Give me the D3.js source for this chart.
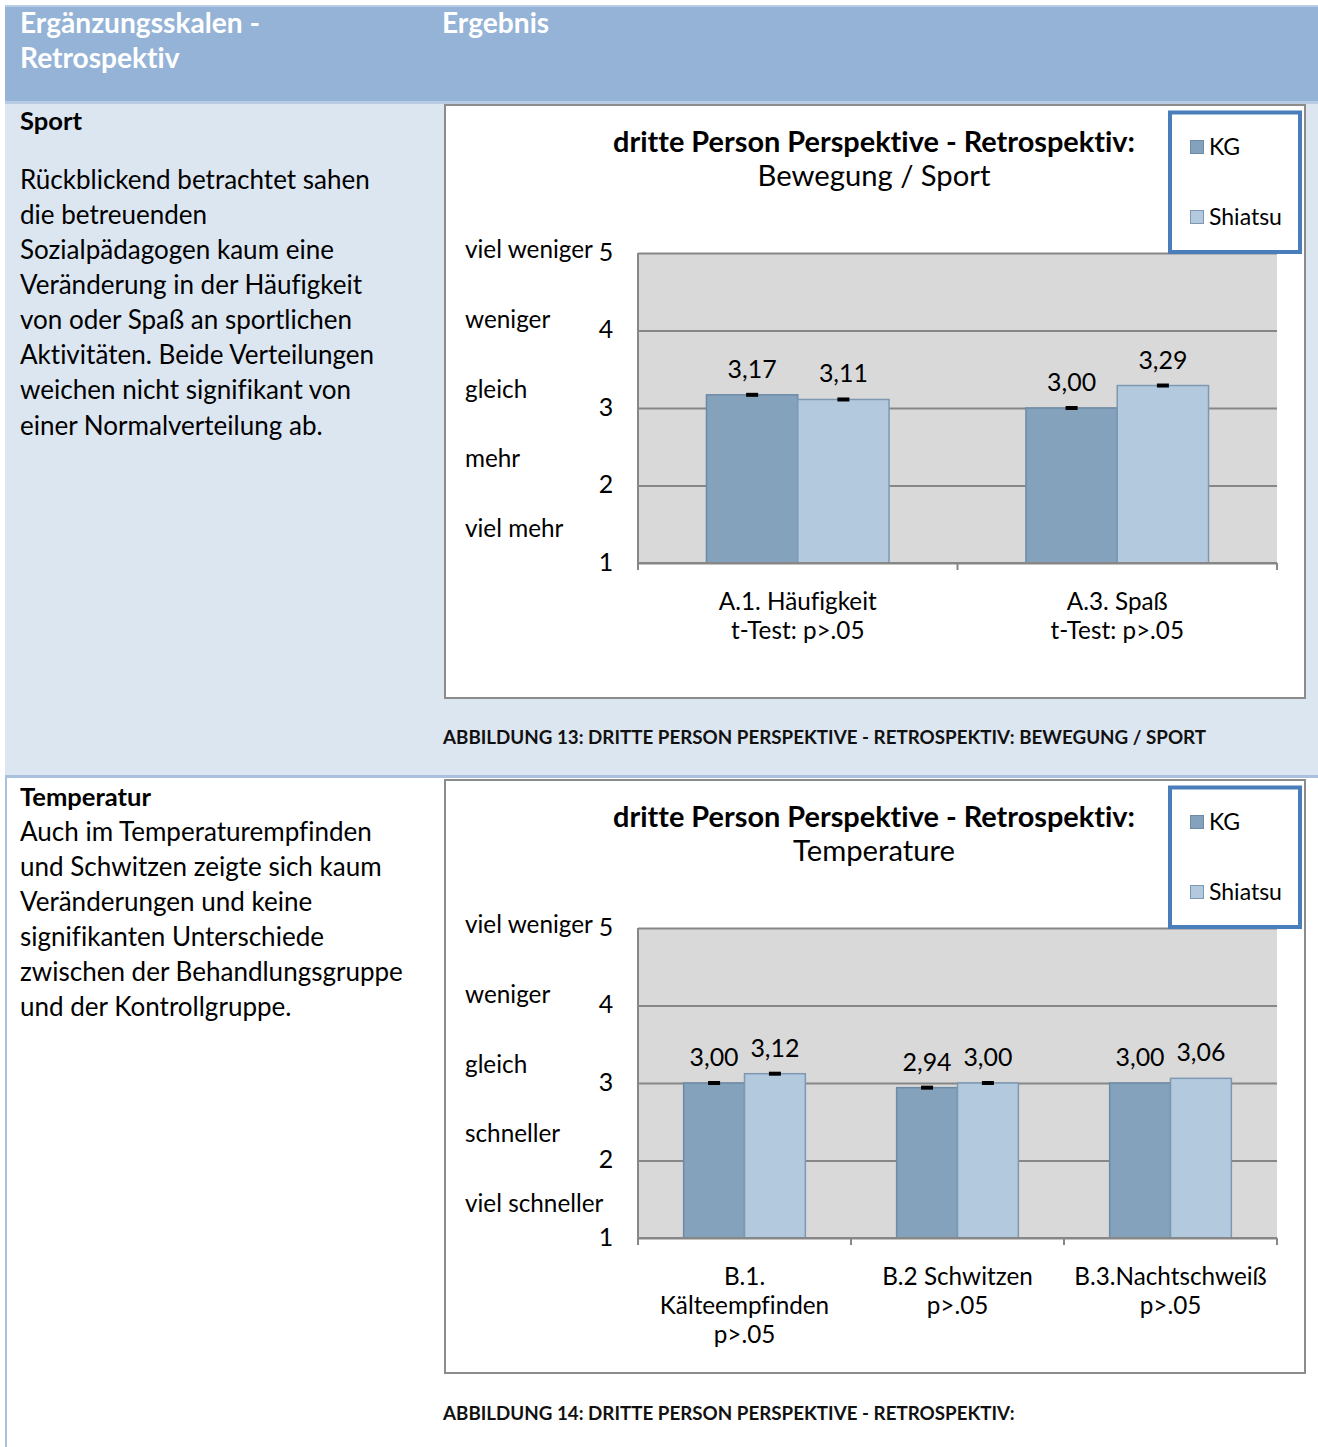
<!DOCTYPE html>
<html><head><meta charset="utf-8">
<script src="https://cdn.jsdelivr.net/npm/d3@7"></script>
<style>body{margin:0;background:#fff}svg{display:block}text{font-family:Lato,"Open Sans",sans-serif;font-variant-ligatures:none}</style>
</head><body>
<script>
// ---------- data ----------
const headerLeft = ["Ergänzungsskalen -", "Retrospektiv"];
const headerRight = "Ergebnis";
const sportTitle = "Sport";
const sportLines = ["Rückblickend betrachtet sahen","die betreuenden","Sozialpädagogen kaum eine","Veränderung in der Häufigkeit","von oder Spaß an sportlichen","Aktivitäten. Beide Verteilungen","weichen nicht signifikant von","einer Normalverteilung ab."];
const tempTitle = "Temperatur";
const tempLines = ["Auch im Temperaturempfinden","und Schwitzen zeigte sich kaum","Veränderungen und keine","signifikanten Unterschiede","zwischen der Behandlungsgruppe","und der Kontrollgruppe."];
const seriesNames = ["KG", "Shiatsu"];
const chartTitle = "dritte Person Perspektive - Retrospektiv:";
const sportSubtitle = "Bewegung / Sport";
const tempSubtitle = "Temperature";
const sportCategories = [["A.1. Häufigkeit","t-Test: p>.05"],["A.3. Spaß","t-Test: p>.05"]];
const sportKG = [3.17, 3.00];
const sportShiatsu = [3.11, 3.29];
const sportErrorShown = [true, true];
const tempCategories = [["B.1.","Kälteempfinden","p>.05"],["B.2 Schwitzen","p>.05"],["B.3.Nachtschweiß","p>.05"]];
const tempKG = [3.00, 2.94, 3.00];
const tempShiatsu = [3.12, 3.00, 3.06];
const tempErrorShown = [true, true, false];
const yTicks = [1, 2, 3, 4, 5];
const sportScaleLabels = ["viel weniger","weniger","gleich","mehr","viel mehr"];
const tempScaleLabels = ["viel weniger","weniger","gleich","schneller","viel schneller"];
const caption13 = "ABBILDUNG 13: DRITTE PERSON PERSPEKTIVE - RETROSPEKTIV: BEWEGUNG / SPORT";
const caption14 = "ABBILDUNG 14: DRITTE PERSON PERSPEKTIVE - RETROSPEKTIV:";

// ---------- setup ----------
const W = 1318, H = 1447;
const svg = d3.select("body").append("svg").attr("width", W).attr("height", H);
function fitSize(str, target, weight) {
  const t = svg.append("text").attr("font-size", 100).attr("font-weight", weight || "normal").text(str);
  const w = t.node().getComputedTextLength(); t.remove();
  return 100 * target / w;
}
const fsHeader = fitSize(headerLeft[0], 240, "bold");
const fsBody = fitSize(sportLines[0], 350);
const fsBodyBold = fitSize(sportTitle, 62, "bold");
const fsTitle = fitSize(chartTitle, 522, "bold");
const fsSub = fitSize(sportSubtitle, 233);
const fsScale = fitSize("viel weniger", 128);
const fsVal = fitSize("3,17", 49);
const fsX = fitSize("A.1. Häufigkeit", 158);
const fsLeg = fitSize("Shiatsu", 73);
const fsCap = fitSize(caption13, 764, "bold");
const fsTick = fsVal;
const dy = -1.5; // baseline correction for central alignment

// ---------- page background ----------
svg.append("rect").attr("x", 5).attr("y", 5).attr("width", W - 5).attr("height", 98).attr("fill", "#95b3d7");
svg.append("rect").attr("x", 5).attr("y", 5).attr("width", W - 5).attr("height", 2).attr("fill", "#b8cce4");
svg.append("rect").attr("x", 5).attr("y", 101).attr("width", W - 5).attr("height", 3).attr("fill", "#b8cce4");
svg.append("rect").attr("x", 5).attr("y", 104).attr("width", W - 5).attr("height", 672).attr("fill", "#dce6f1");
svg.append("rect").attr("x", 5).attr("y", 775).attr("width", W - 5).attr("height", 3).attr("fill", "#a9c0de");
svg.append("rect").attr("x", 5).attr("y", 778).attr("width", 2).attr("height", H - 778).attr("fill", "#a9c0de");

// header
const hdr = svg.append("g").attr("fill", "#fff").attr("font-weight", "bold").attr("font-size", fsHeader);
hdr.selectAll("text.hl").data(headerLeft).join("text").attr("x", 20).attr("y", (d, i) => 23 + dy + i * 35)
  .attr("dominant-baseline", "central").text(d => d);
hdr.append("text").attr("x", 442).attr("y", 23 + dy).attr("dominant-baseline", "central").text(headerRight);

// left texts
function leftText(title, lines, y0, firstGap) {
  const g = svg.append("g").attr("fill", "#000");
  g.append("text").attr("x", 20).attr("y", y0 + dy).attr("dominant-baseline", "central")
    .attr("font-weight", "bold").attr("font-size", fsBodyBold).text(title);
  g.selectAll("text.l").data(lines).join("text").attr("x", 20)
    .attr("y", (d, i) => y0 + dy + firstGap + i * 35.15).attr("dominant-baseline", "central")
    .attr("font-size", fsBody).text(d => d);
}
leftText(sportTitle, sportLines, 121, 59);
leftText(tempTitle, tempLines, 797, 35);

// captions
svg.append("text").attr("x", 443).attr("y", 738 + dy).attr("dominant-baseline", "central")
  .attr("font-weight", "bold").attr("font-size", fsCap).attr("fill", "#111").text(caption13);
svg.append("text").attr("x", 443).attr("y", 1414 + dy).attr("dominant-baseline", "central")
  .attr("font-weight", "bold").attr("font-size", fsCap).attr("fill", "#111").text(caption14);

// ---------- charts ----------
function drawChart(top, subtitle, categories, kg, sh, errShown, scaleLabels) {
  const box = { x: 445, y: top, w: 860, h: 593 };
  const g = svg.append("g");
  g.append("rect").attr("x", box.x).attr("y", box.y).attr("width", box.w).attr("height", box.h)
    .attr("fill", "#fff").attr("stroke", "#8c8c8c").attr("stroke-width", 2);
  const cx = box.x + box.w / 2 - 1;
  g.append("text").attr("x", cx).attr("y", top + 37 + dy).attr("text-anchor", "middle").attr("dominant-baseline", "central")
    .attr("font-weight", "bold").attr("font-size", fsTitle).text(chartTitle);
  g.append("text").attr("x", cx).attr("y", top + 71 + dy).attr("text-anchor", "middle").attr("dominant-baseline", "central")
    .attr("font-size", fsSub).text(subtitle);

  const plot = { l: 638, r: 1277, t: top + 148, b: top + 458 };
  const y = d3.scaleLinear().domain([1, 5]).range([plot.b, plot.t]);
  const keys = categories.map((c, i) => i);
  const x0 = d3.scaleBand().domain(keys).range([plot.l, plot.r]).padding(0);
  const x1 = d3.scaleBand().domain(seriesNames).range([0, x0.bandwidth()]).paddingInner(0).paddingOuter(0.75);

  g.append("rect").attr("x", plot.l).attr("y", plot.t).attr("width", plot.r - plot.l).attr("height", plot.b - plot.t)
    .attr("fill", "#d9d9d9");
  const grid = g.append("g").attr("transform", `translate(${plot.l},0)`)
    .call(d3.axisLeft(y).tickValues(yTicks).tickSize(-(plot.r - plot.l)).tickFormat(""));
  grid.select(".domain").remove();
  grid.selectAll("line").attr("stroke", "#878787").attr("stroke-width", 2);
  g.selectAll("text.yt").data(yTicks).join("text").attr("x", 606).attr("y", d => y(d) - 1 + dy)
    .attr("text-anchor", "middle").attr("dominant-baseline", "central").attr("font-size", fsTick).text(d => d);
  const ys = d3.scalePoint().domain(scaleLabels).range([plot.t - 3, plot.t + 276]);
  g.selectAll("text.sl").data(scaleLabels).join("text").attr("x", 465).attr("y", d => ys(d) + dy)
    .attr("dominant-baseline", "central").attr("font-size", fsScale).text(d => d);

  const data = [];
  keys.forEach(i => {
    data.push({ i, s: "KG", v: kg[i], fill: "#84a2bc", stroke: "#6d8aa6" });
    data.push({ i, s: "Shiatsu", v: sh[i], fill: "#b3c9de", stroke: "#7d98b3" });
  });
  g.selectAll("rect.bar").data(data).join("rect")
    .attr("x", d => x0(d.i) + x1(d.s)).attr("y", d => y(d.v))
    .attr("width", x1.bandwidth()).attr("height", d => y(1) - y(d.v))
    .attr("fill", d => d.fill).attr("stroke", d => d.stroke).attr("stroke-width", 1.5);
  g.selectAll("rect.err").data(data.filter(d => errShown[d.i])).join("rect")
    .attr("x", d => x0(d.i) + x1(d.s) + x1.bandwidth() / 2 - 6).attr("y", d => y(d.v) - 2)
    .attr("width", 12).attr("height", 4).attr("fill", "#000");
  g.selectAll("text.val").data(data).join("text")
    .attr("x", d => x0(d.i) + x1(d.s) + x1.bandwidth() / 2).attr("y", d => y(d.v) - 25.5 + dy)
    .attr("text-anchor", "middle").attr("dominant-baseline", "central").attr("font-size", fsVal)
    .text(d => d3.format(".2f")(d.v).replace(".", ","));

  g.append("line").attr("x1", plot.l).attr("x2", plot.r).attr("y1", plot.b).attr("y2", plot.b)
    .attr("stroke", "#878787").attr("stroke-width", 2);
  g.append("line").attr("x1", plot.l).attr("x2", plot.l).attr("y1", plot.t).attr("y2", plot.b + 7)
    .attr("stroke", "#878787").attr("stroke-width", 2);
  const bounds = keys.map(k => x0(k)).concat([plot.r]);
  g.selectAll("line.xt").data(bounds).join("line").attr("x1", d => d).attr("x2", d => d)
    .attr("y1", plot.b).attr("y2", plot.b + 7).attr("stroke", "#878787").attr("stroke-width", 2);
  keys.forEach(k => {
    g.selectAll(null).data(categories[k]).join("text")
      .attr("x", x0(k) + x0.bandwidth() / 2).attr("y", (d, j) => plot.b + 39 + dy + j * 29)
      .attr("text-anchor", "middle").attr("dominant-baseline", "central").attr("font-size", fsX).text(d => d);
  });

  const lg = g.append("g");
  const lgTop = top + 7;
  lg.append("rect").attr("x", 1170).attr("y", lgTop + 0.5).attr("width", 130).attr("height", plot.t - lgTop - 1.5)
    .attr("fill", "#fff").attr("stroke", "#4a7ebb").attr("stroke-width", 4);
  const legFill = ["#84a2bc", "#b3c9de"], legStroke = ["#6d8aa6", "#7d98b3"];
  seriesNames.forEach((s, i) => {
    const cy = lgTop + 35 + i * 70;
    lg.append("rect").attr("x", 1190.5).attr("y", cy - 6.5).attr("width", 13).attr("height", 13)
      .attr("fill", legFill[i]).attr("stroke", legStroke[i]).attr("stroke-width", 1);
    lg.append("text").attr("x", 1209).attr("y", cy + dy).attr("dominant-baseline", "central")
      .attr("font-size", fsLeg).text(s);
  });
}
drawChart(105, sportSubtitle, sportCategories, sportKG, sportShiatsu, sportErrorShown, sportScaleLabels);
drawChart(780, tempSubtitle, tempCategories, tempKG, tempShiatsu, tempErrorShown, tempScaleLabels);
</script>
</body></html>
